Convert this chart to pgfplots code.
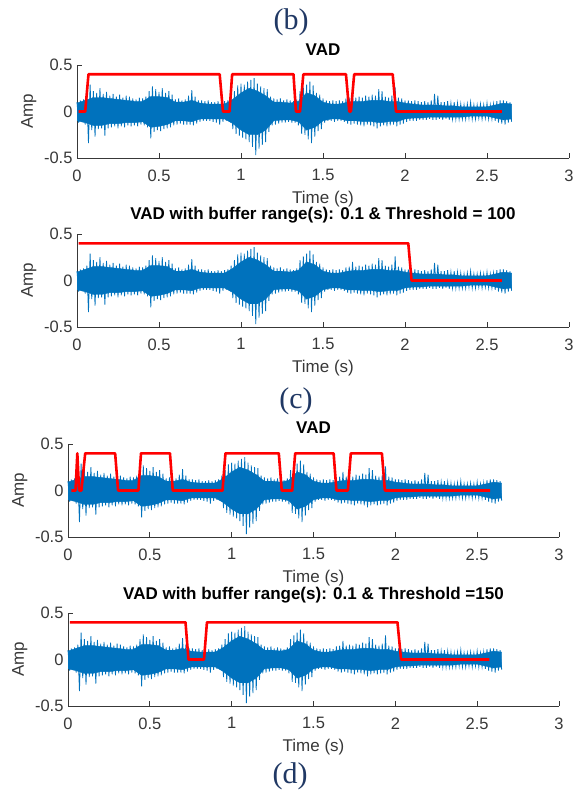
\documentclass[border=0pt]{standalone}
\usepackage{pgfplots}
\pgfplotsset{compat=1.18}
\usepackage{pgfplotstable}
\usepackage{fontspec}
\setmainfont{Liberation Serif}
\setsansfont{Liberation Sans}
\definecolor{mblue}{rgb}{0,0.447,0.741}
\definecolor{navy}{RGB}{32,56,100}
\definecolor{axgray}{gray}{0.22}
\pgfplotstableread{
t y
0.00 0.10
0.01 -0.12
0.02 0.12
0.03 -0.11
0.04 0.13
0.05 -0.14
0.06 0.16
0.07 -0.34
0.08 0.29
0.09 -0.20
0.10 0.22
0.11 -0.27
0.12 0.20
0.13 -0.19
0.14 0.25
0.15 -0.18
0.16 0.19
0.17 -0.26
0.18 0.21
0.19 -0.18
0.20 0.17
0.21 -0.17
0.22 0.19
0.23 -0.16
0.24 0.16
0.25 -0.18
0.26 0.18
0.27 -0.16
0.28 0.15
0.29 -0.17
0.30 0.17
0.31 -0.15
0.32 0.16
0.33 -0.16
0.34 0.14
0.35 -0.15
0.36 0.13
0.37 -0.16
0.38 0.15
0.39 -0.14
0.40 0.14
0.41 -0.15
0.42 0.16
0.43 -0.17
0.44 0.22
0.45 -0.29
0.46 0.27
0.47 -0.22
0.48 0.24
0.49 -0.20
0.50 0.21
0.51 -0.21
0.52 0.25
0.53 -0.19
0.54 0.20
0.55 -0.18
0.56 0.22
0.57 -0.17
0.58 0.18
0.59 -0.15
0.60 0.13
0.61 -0.14
0.62 0.14
0.63 -0.13
0.64 0.12
0.65 -0.14
0.66 0.13
0.67 -0.14
0.68 0.17
0.69 -0.14
0.70 0.23
0.71 -0.15
0.72 0.16
0.73 -0.13
0.74 0.12
0.75 -0.11
0.76 0.12
0.77 -0.10
0.78 0.11
0.79 -0.10
0.80 0.12
0.81 -0.10
0.82 0.10
0.83 -0.11
0.84 0.10
0.85 -0.12
0.86 0.11
0.87 -0.14
0.88 0.10
0.89 -0.11
0.90 0.11
0.91 -0.10
0.92 0.12
0.93 -0.11
0.94 0.16
0.95 -0.19
0.96 0.22
0.97 -0.24
0.98 0.28
0.99 -0.26
1.00 0.30
1.01 -0.28
1.02 0.29
1.03 -0.30
1.04 0.32
1.05 -0.33
1.06 0.34
1.07 -0.38
1.08 0.36
1.09 -0.47
1.10 0.30
1.11 -0.40
1.12 0.27
1.13 -0.36
1.14 0.25
1.15 -0.33
1.16 0.24
1.17 -0.22
1.18 0.16
1.19 -0.15
1.20 0.14
1.21 -0.14
1.22 0.13
1.23 -0.13
1.24 0.14
1.25 -0.12
1.26 0.12
1.27 -0.12
1.28 0.13
1.29 -0.11
1.30 0.12
1.31 -0.12
1.32 0.11
1.33 -0.12
1.34 0.13
1.35 -0.15
1.36 0.22
1.37 -0.24
1.38 0.26
1.39 -0.25
1.40 0.29
1.41 -0.30
1.42 0.32
1.43 -0.34
1.44 0.28
1.45 -0.27
1.46 0.20
1.47 -0.21
1.48 0.18
1.49 -0.19
1.50 0.14
1.51 -0.12
1.52 0.12
1.53 -0.10
1.54 0.11
1.55 -0.10
1.56 0.12
1.57 -0.11
1.58 0.11
1.59 -0.10
1.60 0.12
1.61 -0.10
1.62 0.11
1.63 -0.11
1.64 0.14
1.65 -0.13
1.66 0.15
1.67 -0.14
1.68 0.20
1.69 -0.13
1.70 0.15
1.71 -0.14
1.72 0.16
1.73 -0.15
1.74 0.15
1.75 -0.16
1.76 0.17
1.77 -0.14
1.78 0.16
1.79 -0.15
1.80 0.18
1.81 -0.16
1.82 0.17
1.83 -0.18
1.84 0.24
1.85 -0.16
1.86 0.22
1.87 -0.15
1.88 0.16
1.89 -0.16
1.90 0.15
1.91 -0.15
1.92 0.17
1.93 -0.14
1.94 0.26
1.95 -0.16
1.96 0.15
1.97 -0.14
1.98 0.14
1.99 -0.13
2.00 0.12
2.01 -0.11
2.02 0.12
2.03 -0.10
2.04 0.11
2.05 -0.10
2.06 0.12
2.07 -0.10
2.08 0.11
2.09 -0.09
2.10 0.10
2.11 -0.09
2.12 0.11
2.13 -0.09
2.14 0.10
2.15 -0.08
2.16 0.12
2.17 -0.09
2.18 0.19
2.19 -0.09
2.20 0.17
2.21 -0.08
2.22 0.10
2.23 -0.09
2.24 0.10
2.25 -0.08
2.26 0.11
2.27 -0.09
2.28 0.09
2.29 -0.08
2.30 0.10
2.31 -0.08
2.32 0.09
2.33 -0.08
2.34 0.08
2.35 -0.08
2.36 0.07
2.37 -0.08
2.38 0.08
2.39 -0.07
2.40 0.10
2.41 -0.08
2.42 0.07
2.43 -0.08
2.44 0.07
2.45 -0.07
2.46 0.08
2.47 -0.08
2.48 0.07
2.49 -0.07
2.50 0.09
2.51 -0.08
2.52 0.07
2.53 -0.08
2.54 0.08
2.55 -0.10
2.56 0.11
2.57 -0.12
2.58 0.12
2.59 -0.13
2.60 0.12
2.61 -0.14
2.62 0.11
2.63 -0.12
2.64 0.10
2.65 -0.11
}\wave
% dense core of the waveform: upper edge left to right, lower edge right to left
\pgfplotstableread{
t y
0.00 0.09
0.05 0.12
0.10 0.15
0.15 0.15
0.20 0.14
0.25 0.13
0.30 0.12
0.35 0.11
0.40 0.11
0.45 0.16
0.50 0.16
0.55 0.15
0.60 0.10
0.65 0.10
0.70 0.12
0.75 0.09
0.80 0.08
0.85 0.08
0.90 0.08
0.95 0.13
1.00 0.20
1.05 0.25
1.10 0.22
1.15 0.17
1.20 0.10
1.25 0.10
1.30 0.09
1.35 0.11
1.40 0.20
1.45 0.17
1.50 0.10
1.55 0.08
1.60 0.08
1.65 0.10
1.70 0.11
1.75 0.11
1.80 0.12
1.85 0.12
1.90 0.11
1.95 0.11
2.00 0.09
2.05 0.08
2.10 0.07
2.15 0.07
2.20 0.07
2.25 0.06
2.30 0.06
2.35 0.05
2.40 0.05
2.45 0.05
2.50 0.05
2.55 0.07
2.60 0.09
2.65 0.08
2.65 -0.08
2.60 -0.09
2.55 -0.07
2.50 -0.05
2.45 -0.05
2.40 -0.05
2.35 -0.06
2.30 -0.06
2.25 -0.06
2.20 -0.06
2.15 -0.06
2.10 -0.07
2.05 -0.07
2.00 -0.08
1.95 -0.11
1.90 -0.11
1.85 -0.12
1.80 -0.11
1.75 -0.11
1.70 -0.10
1.65 -0.10
1.60 -0.08
1.55 -0.08
1.50 -0.10
1.45 -0.17
1.40 -0.20
1.35 -0.11
1.30 -0.09
1.25 -0.09
1.20 -0.10
1.15 -0.20
1.10 -0.25
1.05 -0.25
1.00 -0.20
0.95 -0.13
0.90 -0.08
0.85 -0.08
0.80 -0.08
0.75 -0.08
0.70 -0.11
0.65 -0.10
0.60 -0.10
0.55 -0.14
0.50 -0.16
0.45 -0.17
0.40 -0.11
0.35 -0.12
0.30 -0.12
0.25 -0.13
0.20 -0.13
0.15 -0.15
0.10 -0.15
0.05 -0.12
0.00 -0.10
}\core
\pgfplotsset{vad/.style={
  scale only axis, height=93pt,
  xmin=0, xmax=3, ymin=-0.5, ymax=0.5,
  axis lines*=left,
  axis line style={axgray, line width=0.8pt},
  tick align=inside, major tick length=5pt,
  tick style={axgray, line width=0.8pt},
  xtick={0,0.5,1,1.5,2,2.5,3}, xticklabels={0,0.5,1,1.5,2,2.5,3},
  ytick={-0.5,0,0.5}, yticklabels={-0.5,0,0.5},
  ticklabel style={font=\sffamily\fontsize{16.5}{16.5}\selectfont, text=axgray},
  xticklabel style={yshift=-8pt},
  yticklabel style={xshift=-1pt},
  xlabel={Time (s)}, ylabel={Amp},
  label style={font=\sffamily\fontsize{17}{17}\selectfont, text=axgray},
  xlabel style={at={(axis description cs:0.5,-0.44)}, anchor=center},
  ylabel style={at={(axis description cs:-0.098,0.5)}, anchor=center},
  title style={font=\sffamily\bfseries\fontsize{17}{17}\selectfont, anchor=center},
  clip=false,
}}
\newcommand{\drawwave}{%
  \addplot[fill=mblue, draw=mblue, line width=0.4pt] table[x=t,y=y]{\core};
  \addplot[mblue, line width=0.8pt] table[x=t,y=y]{\wave};
}
\begin{document}
\begin{tikzpicture}
\path[use as bounding box] (0pt,0pt) rectangle (581pt,-791pt);
% (b)
\node[font=\fontsize{30}{30}\selectfont, text=navy] at (291pt,-22pt) {(b)};
\begin{axis}[vad, width=492pt, at={(77pt,-158pt)}, anchor=south west,
  title={VAD}, title style={at={(axis description cs:0.5,1.105)}}]
\drawwave
\addplot[red, line width=2.6pt, line join=round] coordinates {
(0.01,0) (0.05,0) (0.07,0.4) (0.87,0.4) (0.89,0) (0.93,0) (0.946,0.4)
(1.32,0.4) (1.335,0) (1.36,0) (1.38,0.4) (1.64,0.4) (1.66,0) (1.67,0)
(1.69,0.4) (1.925,0.4) (1.945,0) (2.59,0)};
\end{axis}
% (b) second
\begin{axis}[vad, width=492pt, at={(77pt,-327pt)}, anchor=south west,
  title={VAD with buffer range(s): 0.1 \& Threshold = 100},
  title style={at={(axis description cs:0.5,1.135)}}]
\drawwave
\addplot[red, line width=2.6pt, line join=round] coordinates {
(0.01,0.4) (2.02,0.4) (2.04,0) (2.59,0)};
\end{axis}
% (c)
\node[font=\fontsize{30}{30}\selectfont, text=navy] at (296pt,-401pt) {(c)};
\begin{axis}[vad, width=491pt, at={(68pt,-537pt)}, anchor=south west,
  title={VAD}, title style={at={(axis description cs:0.5,1.115)}}]
\drawwave
\addplot[red, line width=2.6pt, line join=round] coordinates {
(0.02,0) (0.046,0) (0.057,0.4) (0.068,0) (0.082,0) (0.105,0.4) (0.288,0.4)
(0.306,0) (0.43,0) (0.446,0.4) (0.623,0.4) (0.64,0) (0.944,0) (0.962,0.4)
(1.288,0.4) (1.306,0) (1.37,0) (1.388,0.4) (1.623,0.4) (1.64,0) (1.71,0)
(1.728,0.4) (1.918,0.4) (1.936,0) (2.579,0)};
\end{axis}
% (d)
\begin{axis}[vad, width=491pt, at={(68pt,-706pt)}, anchor=south west,
  title={VAD with buffer range(s): 0.1 \& Threshold =150},
  title style={at={(axis description cs:0.5,1.125)}}]
\drawwave
\addplot[red, line width=2.6pt, line join=round] coordinates {
(0.011,0.4) (0.718,0.4) (0.736,0) (0.831,0) (0.849,0.4) (2.013,0.4)
(2.035,0) (2.574,0)};
\end{axis}
\node[font=\fontsize{30}{30}\selectfont, text=navy] at (290pt,-776pt) {(d)};
\end{tikzpicture}
\end{document}
